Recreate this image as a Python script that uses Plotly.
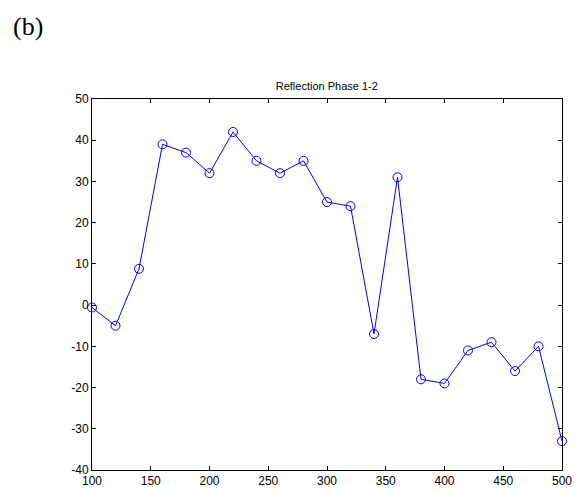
import plotly.graph_objects as go

x_vals = [100, 120, 140, 160, 180, 200, 220, 240, 260, 280, 300, 320, 340, 360, 380, 400, 420, 440, 460, 480, 500]
phase = [-0.6, -5, 8.8, 39, 37, 32, 42, 35, 32, 35, 25, 24, -7, 31, -18, -19, -11, -9, -16, -10, -33]
x_ticks = [100, 150, 200, 250, 300, 350, 400, 450, 500]
y_ticks = [-40, -30, -20, -10, 0, 10, 20, 30, 40, 50]
y_tick_text = ["-40", "-30", "-20", "-10", "0", "10", "20", "30", "40", "50"]

fig = go.Figure()
fig.add_trace(go.Scatter(
    x=x_vals, y=phase, mode="lines+markers",
    line=dict(color="#0000ff", width=1),
    marker=dict(symbol="circle-open", size=9, color="#0000ff", line=dict(width=1, color="#0000ff")),
    cliponaxis=False, showlegend=False,
))

axis_common = dict(
    showgrid=False, zeroline=False, showline=True, linecolor="black", linewidth=1,
    mirror="ticks", ticks="inside", ticklen=4, tickcolor="black", automargin=False,
    tickfont=dict(family="Arial, Liberation Sans, sans-serif", size=12, color="black"),
)
fig.update_xaxes(range=[100, 500], tickvals=x_ticks, ticktext=[str(v) for v in x_ticks], **axis_common)
fig.update_yaxes(range=[-40, 50], tickvals=y_ticks, ticktext=y_tick_text, **axis_common)

fig.update_layout(
    width=581, height=492,
    margin=dict(l=92, r=19, t=99, b=22),
    paper_bgcolor="white", plot_bgcolor="white",
    title=dict(text="Reflection Phase 1-2", x=0.5625, xanchor="center", y=1 - 86 / 492, yanchor="middle",
               font=dict(family="Arial, Liberation Sans, sans-serif", size=11, color="black")),
    annotations=[dict(text="(b)", xref="paper", yref="paper", x=-92 / 470, y=1 + (99 - 27) / 371,
                      xanchor="left", yanchor="middle", showarrow=False, xshift=11,
                      font=dict(family="Times New Roman, Liberation Serif, serif", size=26, color="black"))],
)

fig.write_html("out.html")
